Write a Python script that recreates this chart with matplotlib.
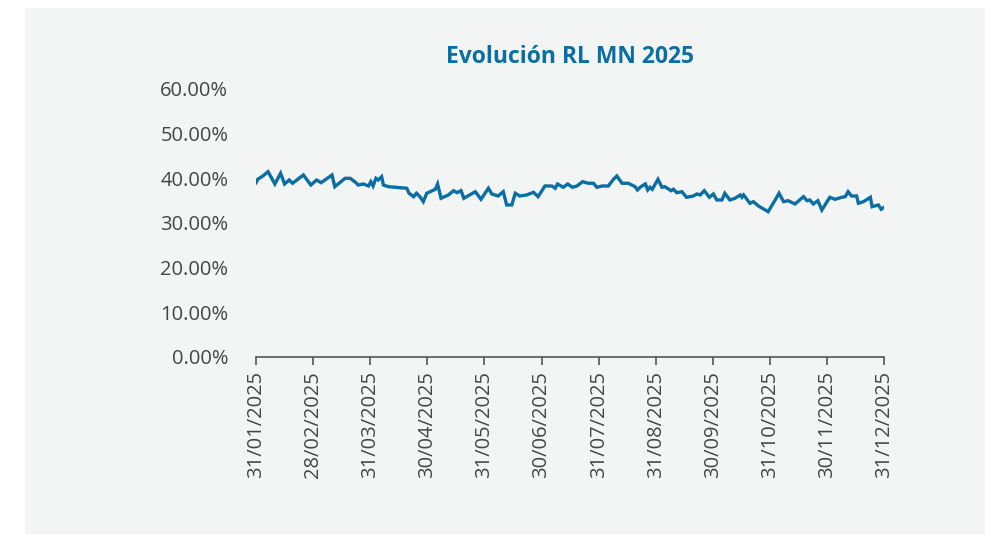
import matplotlib
matplotlib.use("Agg")
import matplotlib.pyplot as plt
from matplotlib.patches import Rectangle
from matplotlib.ticker import FuncFormatter

plt.rcParams["font.family"] = ["Open Sans", "DejaVu Sans"]

# fechas de cierre de mes (eje categórico, equiespaciado)
meses = ["31/01/2025", "28/02/2025", "31/03/2025", "30/04/2025", "31/05/2025",
         "30/06/2025", "31/07/2025", "31/08/2025", "30/09/2025", "31/10/2025",
         "30/11/2025", "31/12/2025"]

# posición de cada observación en meses desde 31/01 y valor en %
pos = [0.00, 0.03, 0.12, 0.21, 0.33, 0.43, 0.50, 0.58, 0.64, 0.83, 0.96, 1.06,
       1.14, 1.33, 1.38, 1.56, 1.65, 1.75, 1.79, 1.88, 1.97, 2.01, 2.05, 2.10,
       2.14, 2.20, 2.23, 2.32, 2.64, 2.68, 2.76, 2.81, 2.87, 2.93, 2.99, 3.14,
       3.18, 3.24, 3.37, 3.46, 3.52, 3.59, 3.64, 3.84, 3.94, 4.07, 4.13, 4.24,
       4.33, 4.39, 4.48, 4.54, 4.62, 4.74, 4.86, 4.94, 5.06, 5.18, 5.24, 5.28,
       5.38, 5.46, 5.54, 5.62, 5.72, 5.82, 5.91, 5.97, 6.06, 6.17, 6.26, 6.32,
       6.41, 6.52, 6.58, 6.64, 6.68, 6.74, 6.82, 6.86, 6.90, 6.94, 7.04, 7.11,
       7.16, 7.27, 7.31, 7.37, 7.46, 7.54, 7.66, 7.72, 7.78, 7.85, 7.94, 8.01,
       8.07, 8.16, 8.21, 8.30, 8.39, 8.48, 8.51, 8.54, 8.65, 8.71, 8.80, 8.97,
       9.11, 9.16, 9.24, 9.32, 9.44, 9.59, 9.65, 9.70, 9.76, 9.84, 9.91, 10.05,
       10.14, 10.26, 10.32, 10.37, 10.43, 10.52, 10.55, 10.64, 10.76, 10.79,
       10.90, 10.95, 11.00]
rl = [39.02, 39.78, 40.52, 41.48, 38.73, 41.12, 38.73, 39.62, 38.89, 40.74,
      38.50, 39.62, 39.02, 40.74, 38.12, 40.00, 40.00, 39.02, 38.50, 38.73,
      38.28, 39.24, 38.28, 40.00, 39.62, 40.36, 38.50, 38.12, 37.77, 36.65,
      35.89, 36.65, 35.89, 34.77, 36.65, 37.54, 38.73, 35.53, 36.27, 37.23,
      36.78, 37.23, 35.53, 37.00, 35.30, 37.77, 36.49, 36.04, 37.00, 34.03,
      34.03, 36.65, 36.04, 36.27, 36.87, 35.89, 38.28, 38.28, 37.77, 38.73,
      37.99, 38.73, 37.99, 38.28, 39.24, 38.89, 38.89, 37.99, 38.28, 38.28,
      39.78, 40.52, 38.89, 38.89, 38.50, 38.12, 37.39, 38.12, 38.73, 37.39,
      37.99, 37.54, 39.78, 37.99, 38.12, 37.23, 37.54, 36.78, 37.00, 35.75,
      36.04, 36.49, 36.27, 37.23, 35.75, 36.49, 35.15, 35.15, 36.65, 35.15,
      35.53, 36.27, 35.75, 36.27, 34.41, 34.77, 33.80, 32.53, 35.53, 36.65,
      34.77, 34.99, 34.25, 35.89, 34.99, 35.15, 34.25, 34.99, 32.91, 35.75,
      35.30, 35.75, 35.89, 37.00, 36.04, 36.04, 34.41, 34.77, 35.75, 33.65,
      34.03, 33.06, 33.51]

fig = plt.figure(figsize=(9.92, 5.34), dpi=100, facecolor="white")
fig.patches.append(Rectangle((0.0252, 0.0), 0.968, 0.985, transform=fig.transFigure,
                             facecolor="#f3f4f4", edgecolor="none", zorder=-1))

ax = fig.add_axes([0.2581, 0.3315, 0.6331, 0.5019])
ax.set_facecolor("none")
ax.plot(pos, rl, color="#0a6ea3", linewidth=2.4, solid_joinstyle="miter")

ax.set_xlim(0, 11)
ax.set_ylim(0, 60)
ax.set_yticks(range(0, 61, 10))
ax.yaxis.set_major_formatter(FuncFormatter(lambda v, p: f"{v:.2f}%"))
ax.set_xticks(range(len(meses)))
ax.set_xticklabels(meses, rotation=90)

for s in ["top", "right", "left"]:
    ax.spines[s].set_visible(False)
ax.spines["bottom"].set_color("#555555")
ax.spines["bottom"].set_linewidth(1.2)
ax.tick_params(axis="y", length=0, pad=20, labelsize=14.5, labelcolor="#454545")
ax.tick_params(axis="x", length=6, width=1.2, color="#555555", pad=4,
               labelsize=14.5, labelcolor="#454545")

fig.text(0.5746, 0.893, "Evolución RL MN 2025", ha="center", va="center",
         fontsize=16.5, fontweight="bold", color="#0a6ea3")

fig.savefig("out.png", dpi=100)
